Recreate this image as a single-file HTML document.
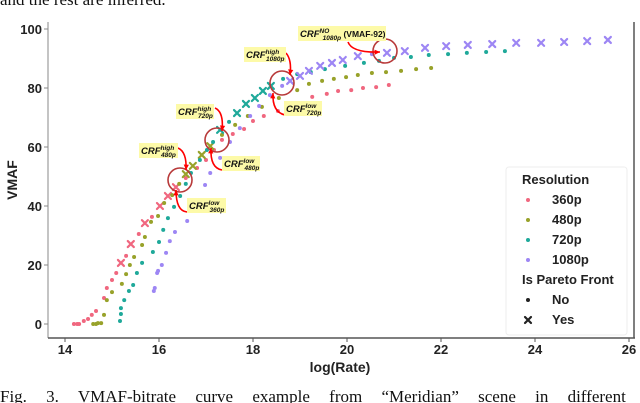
<!DOCTYPE html>
<html><head><meta charset="utf-8"><style>
html,body{margin:0;padding:0;background:#fff;}
body{width:640px;height:403px;overflow:hidden;position:relative;}
svg{position:absolute;left:0;top:0;}
</style></head><body>
<svg id="chart" width="640" height="403" viewBox="0 0 640 403" font-family="Liberation Sans, Arial, sans-serif">
  <text x="0" y="5" font-family="Liberation Serif, serif" font-size="17" fill="#111">and the rest are inferred.</text>
  <text x="0" y="402" font-family="Liberation Serif, serif" font-size="17" fill="#111" word-spacing="15">Fig. 3.  VMAF-bitrate curve example from “Meridian” scene in different</text>
  <g id="axes"></g>
  <g id="marks"></g>
  <g id="annot"></g>
  <g id="legend"></g>
</svg>
<script>
const xTicks = [14, 16, 18, 20, 22, 24, 26];
const yTicks = [0, 20, 40, 60, 80, 100];
const seriesNames = ["360p", "480p", "720p", "1080p"];
const rate360 = [14.19,14.26,14.30,14.40,14.49,14.57,14.66,14.83,14.89,15.00,15.09,15.19,15.30,15.40,15.57,15.70,15.85,16.02,16.19,16.36,16.57,16.81,17.00,17.17,17.34,17.57,17.81,18.00,18.23,18.53,18.87,19.26,19.57,19.81,20.09,20.34,20.62,20.89];
const vmaf360 = [0,0,0,1.0,1.7,3.1,4.4,8.8,12.2,14.9,17.3,20.7,23.1,27.1,30.5,34.2,36.3,40.0,43.4,46.4,49.5,52.9,55.6,59.0,62.4,64.4,66.1,68.8,70.5,72.2,74.9,77.0,78.0,79.0,79.3,80.0,80.3,81.0];
const pareto360 = [0,0,0,0,0,0,0,0,0,0,0,1,0,1,0,1,0,1,1,1,0,0,0,0,0,0,0,0,0,0,0,0,0,0,0,0,0,0];
const rate480 = [14.60,14.66,14.70,14.77,14.83,14.89,15.00,15.21,15.30,15.38,15.47,15.64,15.70,15.83,15.98,16.11,16.28,16.43,16.57,16.72,16.91,17.09,17.34,17.62,17.89,18.19,18.55,18.94,19.19,19.47,19.72,19.98,20.23,20.53,20.83,21.15,21.47,21.79];
const vmaf480 = [0,0,0.3,0.3,3.1,8.1,10.8,13.6,16.9,20.0,22.7,26.8,29.5,34.6,36.6,41.0,43.7,47.5,50.8,53.6,57.3,60.3,64.1,67.5,70.5,73.6,76.6,79.3,81.4,82.4,83.1,83.7,84.4,85.1,85.4,85.8,86.4,86.8];
const pareto480 = [0,0,0,0,0,0,0,0,0,0,0,0,0,0,0,0,0,0,1,1,1,1,0,0,0,0,0,0,0,0,0,0,0,0,0,0,0,0];
const rate720 = [15.17,15.19,15.19,15.26,15.36,15.45,15.53,15.64,15.87,16.00,16.09,16.19,16.32,16.45,16.57,16.68,16.87,17.02,17.15,17.30,17.49,17.66,17.85,18.04,18.21,18.38,18.64,18.94,19.23,19.53,19.96,20.36,20.68,21.00,21.36,21.74,22.15,22.55,22.96,23.36];
const vmaf720 = [1.0,3.4,5.4,8.1,11.2,13.2,17.3,20.7,24.4,27.8,31.9,35.9,39.7,43.4,47.5,51.2,55.6,59.0,61.7,65.8,68.5,71.5,74.6,76.6,79.0,80.7,83.1,84.7,85.4,86.4,87.5,88.5,89.2,90.2,90.5,91.2,91.5,91.9,92.2,92.5];
const pareto720 = [0,0,0,0,0,0,0,0,0,0,0,0,0,0,0,0,0,0,0,1,0,1,1,1,1,1,0,0,0,0,0,0,0,0,0,0,0,0,0,0];
const rate1080 = [15.89,15.91,15.96,15.98,16.06,16.15,16.23,16.34,16.60,16.81,16.98,17.09,17.30,17.51,17.72,17.94,18.13,18.36,18.62,18.79,19.00,19.19,19.43,19.68,19.91,20.23,20.53,20.85,21.23,21.66,22.11,22.57,23.09,23.60,24.13,24.62,25.11,25.55];
const vmaf1080 = [11.2,12.2,17.3,18.0,20.0,24.1,28.1,31.2,34.9,42.0,47.1,51.2,56.3,61.7,66.4,70.5,73.9,77.6,80.7,82.4,84.1,85.8,87.5,88.5,89.5,90.8,91.5,91.9,92.5,93.6,94.2,94.6,94.9,95.3,95.3,95.6,95.9,96.3];
const pareto1080 = [0,0,0,0,0,0,0,0,0,0,0,0,0,0,0,0,0,0,0,1,1,1,1,1,1,1,0,1,1,1,1,1,1,1,1,1,1,1];

const colors = ["#f0677f", "#98a22a", "#1fa99a", "#9d86f4"];
const X = v => 65 + (v - 14) * 47;
const Y = v => 324 - v * 2.95;
const NS = "http://www.w3.org/2000/svg";
function mk(parent, tag, attrs) {
  const e = document.createElementNS(NS, tag);
  for (const k in attrs) e.setAttribute(k, attrs[k]);
  parent.appendChild(e);
  return e;
}
const axes = document.getElementById('axes');
const ax1 = mk(axes, 'line', {x1:48, y1:22, x2:48, y2:338, stroke:'#888', 'stroke-width':1});


const ax2 = mk(axes, 'line', {x1:48, y1:338, x2:635, y2:338, stroke:'#555', 'stroke-width':1.5});


const ax3 = mk(axes, 'line', {x1:634, y1:22, x2:634, y2:338, stroke:'#555', 'stroke-width':1.5});


xTicks.forEach(t => {
  mk(axes, 'line', {x1:X(t), y1:338, x2:X(t), y2:342, stroke:'#555'});
  const tx = mk(axes, 'text', {x:X(t), y:354, 'text-anchor':'middle', 'font-size':13, 'font-weight':'bold', fill:'#222'});
  tx.textContent = t;
  
  
});
yTicks.forEach(t => {
  mk(axes, 'line', {x1:44, y1:Y(t), x2:48, y2:Y(t), stroke:'#888'});
  const tx = mk(axes, 'text', {x:42, y:Y(t) + 5, 'text-anchor':'end', 'font-size':13, 'font-weight':'bold', fill:'#222'});
  tx.textContent = t;
  
  
});
const xt = mk(axes, 'text', {x:340, y:372, 'text-anchor':'middle', 'font-size':14, 'font-weight':'bold', fill:'#222'});
xt.textContent = 'log(Rate)';


const yt = mk(axes, 'text', {x:0, y:0, 'text-anchor':'middle', 'font-size':14, 'font-weight':'bold', fill:'#222', transform:'translate(17,180) rotate(-90)'});
yt.textContent = 'VMAF';



const marks = document.getElementById('marks');
function drawX(g, cx, cy, c) {
  const p = mk(g, 'path', {d:`M${cx-3},${cy-3}L${cx+3},${cy+3}M${cx+3},${cy-3}L${cx-3},${cy+3}`, stroke:c, 'stroke-width':2.2, 'stroke-linecap':'round'});
  return p;
}
const allRates = [rate360, rate480, rate720, rate1080];
const allVmaf = [vmaf360, vmaf480, vmaf720, vmaf1080];
const allPareto = [pareto360, pareto480, pareto720, pareto1080];
allRates.forEach((rates, si) => {
  const g = mk(marks, 'g', {});
  
  
  rates.forEach((r, i) => {
    const cx = X(r), cy = Y(allVmaf[si][i]);
    let m;
    if (allPareto[si][i]) m = drawX(g, cx, cy, colors[si]);
    else m = mk(g, 'circle', {cx:cx, cy:cy, r:2, fill:colors[si]});
    
    
  });
});

const annot = document.getElementById('annot');
const circles = [[180,180],[217,140],[282,83],[385,51]];
circles.forEach(c => {
  const e = mk(annot, 'circle', {cx:c[0], cy:c[1], r:12, fill:'none', stroke:'#b83a3a', 'stroke-width':1.6});
  
  
});
const arrows = [
  "M348,42 Q352,53 380,52",
  "M286,53 Q292,60 290,75",
  "M285,115 Q272,112 273,93",
  "M215,108 Q224,112 222,131",
  "M222,170 Q210,168 211,148",
  "M178,148 Q187,152 186,170",
  "M187,212 Q176,211 176,190"
];
arrows.forEach(d => {
  const e = mk(annot, 'path', {d:d, fill:'none', stroke:'#f00', 'stroke-width':1.6});
  
  
  const pts = d.match(/-?\d+/g).map(Number);
  const ex = pts[4], ey = pts[5], qx = pts[2], qy = pts[3];
  const a = Math.atan2(ey - qy, ex - qx);
  const h = mk(annot, 'path', {d:`M${ex},${ey}L${ex-6*Math.cos(a-0.45)},${ey-6*Math.sin(a-0.45)}L${ex-6*Math.cos(a+0.45)},${ey-6*Math.sin(a+0.45)}Z`, fill:'#f00'});
  
  
});
const labels = [
  [298,26,88,"NO","1080p"," (VMAF-92)"],
  [244,47,42,"high","1080p",""],
  [284,101,38,"low","720p",""],
  [176,104,38,"high","720p",""],
  [222,156,38,"low","480p",""],
  [139,143,39,"high","480p",""],
  [187,198,39,"low","360p",""]
];
labels.forEach(l => {
  const g = mk(annot, 'g', {});
  
  
  mk(g, 'rect', {x:l[0], y:l[1], width:l[2], height:15, fill:'#fdfaa8'});
  const t = mk(g, 'text', {x:l[0]+2, y:l[1]+11, 'font-size':9.5, 'font-weight':'bold', 'font-style':'italic', fill:'#111'});
  t.innerHTML = `CRF<tspan font-size="6.5" dy="-4">${l[3]}</tspan><tspan font-size="6.5" dx="-${l[3].length*3.3}" dy="7">${l[4]}</tspan><tspan dy="-3" font-style="normal" font-size="8.5">${l[5]}</tspan>`;
});

const lg = document.getElementById('legend');
const box = mk(lg, 'rect', {x:506, y:167, width:121, height:168, rx:3, fill:'#fff', stroke:'#eee'});


function ltext(x, y, s, name) {
  const t = mk(lg, 'text', {x:x, y:y, 'font-size':13, 'font-weight':'bold', fill:'#222'});
  t.textContent = s;
  
  
}
ltext(522, 184, 'Resolution', 'legend-title-resolution');
seriesNames.forEach((n, i) => {
  const y = 204 + i * 20;
  const c = mk(lg, 'circle', {cx:528, cy:y - 4, r:2, fill:colors[i]});
  
  
  ltext(552, y, n, 'legend-entry-' + n);
});
ltext(522, 284, 'Is Pareto Front', 'legend-title-pareto');
const cn = mk(lg, 'circle', {cx:528, cy:300, r:2, fill:'#222'});


ltext(552, 304, 'No', 'legend-entry-no');
const cy2 = drawX(lg, 528, 320, '#222');


ltext(552, 324, 'Yes', 'legend-entry-yes');
</script>
</body></html>
